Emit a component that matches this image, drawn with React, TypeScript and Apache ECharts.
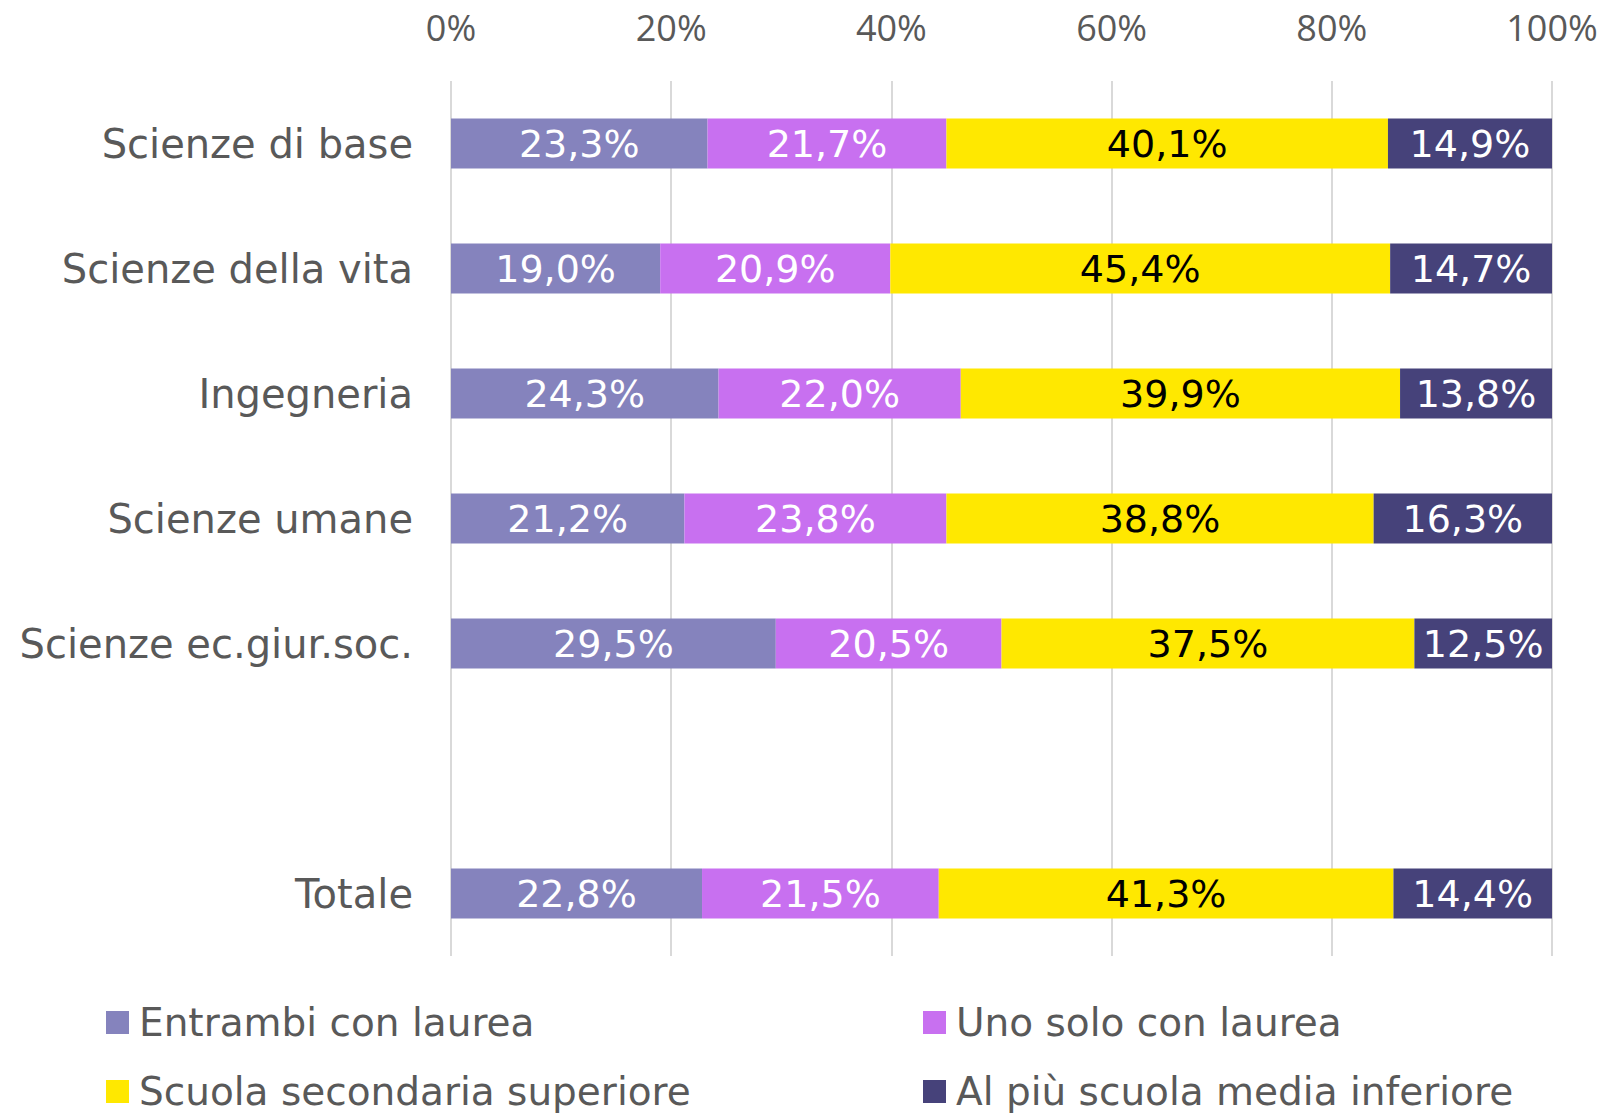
import React, { useEffect, useRef } from "react";
import * as echarts from "echarts";

const categories = [
  "Scienze di base",
  "Scienze della vita",
  "Ingegneria",
  "Scienze umane",
  "Scienze ec.giur.soc.",
  "",
  "Totale",
];
const entrambi = [23.3, 19.0, 24.3, 21.2, 29.5, null, 22.8];
const unoSolo = [21.7, 20.9, 22.0, 23.8, 20.5, null, 21.5];
const secondaria = [40.1, 45.4, 39.9, 38.8, 37.5, null, 41.3];
const media = [14.9, 14.7, 13.8, 16.3, 12.5, null, 14.4];
const seriesNames = [
  "Entrambi con laurea",
  "Uno solo con laurea",
  "Scuola secondaria superiore",
  "Al più scuola media inferiore",
];
const colors = ["#8583BD", "#C870F0", "#FFE800", "#46427A"];
const labelColors = ["#ffffff", "#ffffff", "#000000", "#ffffff"];

export default function App() {
  const ref = useRef<HTMLDivElement>(null);
  useEffect(() => {
    document.body.style.margin = "0";
    const chart = echarts.init(ref.current!, null, { renderer: "svg" });
    const data = [entrambi, unoSolo, secondaria, media];
    const legendText = {
      fontFamily: "'DejaVu Sans'",
      fontSize: 39,
      color: "#595959",
      lineHeight: 36,
      padding: [0, 0, 0, 5],
    };
    const legendBase = {
      orient: "vertical",
      top: 1003,
      height: 400,
      padding: 0,
      itemWidth: 23,
      itemHeight: 23,
      itemGap: 30,
      icon: "rect",
      textStyle: legendText,
    };
    chart.setOption({
      animation: false,
      grid: { left: 451, right: 62, top: 81, bottom: 157 },
      legend: [
        { ...legendBase, left: 106, data: [seriesNames[0], seriesNames[2]] },
        { ...legendBase, left: 923, data: [seriesNames[1], seriesNames[3]] },
      ],
      xAxis: {
        type: "value",
        position: "top",
        min: 0,
        max: 100,
        interval: 20,
        axisLine: { show: false },
        axisTick: { show: false },
        splitLine: { lineStyle: { color: "#D9D9D9", width: 2 } },
        axisLabel: {
          formatter: "{value}%",
          fontFamily: "'Open Sans'",
          fontSize: 36,
          color: "#595959",
          margin: 36,
        },
      },
      yAxis: {
        type: "category",
        inverse: true,
        data: categories,
        axisLine: { show: false },
        axisTick: { show: false },
        axisLabel: {
          fontFamily: "'DejaVu Sans'",
          fontSize: 40,
          color: "#595959",
          margin: 38,
        },
      },
      series: seriesNames.map((name, i) => ({
        name,
        type: "bar",
        stack: "total",
        barWidth: 50,
        data: data[i],
        itemStyle: { color: colors[i] },
        label: {
          show: true,
          position: "inside",
          color: labelColors[i],
          fontFamily: "'DejaVu Sans'",
          fontSize: 38,
          formatter: (p: any) =>
            p.value == null ? "" : p.value.toFixed(1).replace(".", ",") + "%",
        },
      })),
    });
    return () => chart.dispose();
  }, []);
  return <div ref={ref} style={{ width: 1614, height: 1113 }} />;
}
